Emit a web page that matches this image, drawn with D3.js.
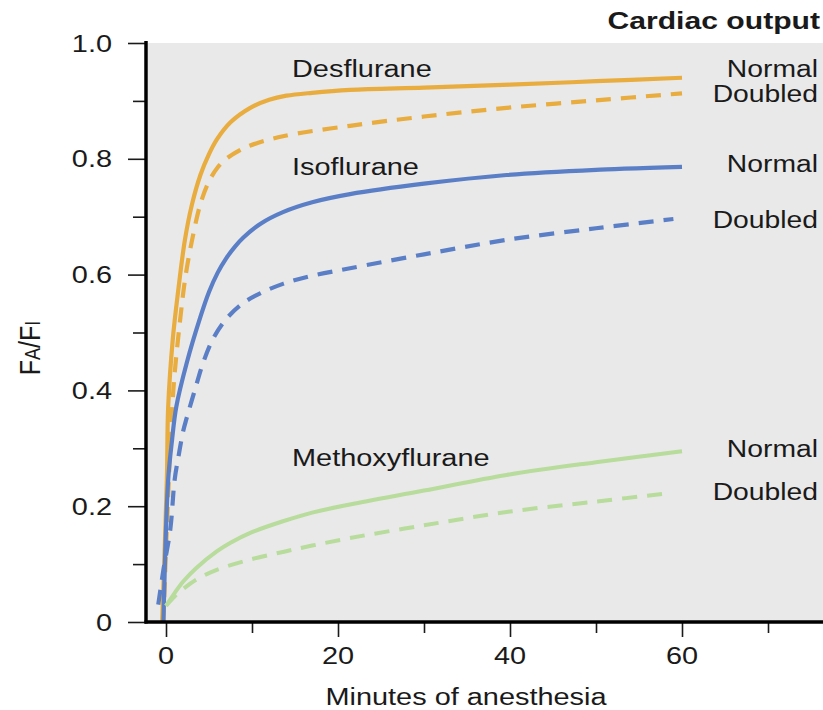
<!DOCTYPE html>
<html>
<head>
<meta charset="utf-8">
<script src="https://cdn.jsdelivr.net/npm/d3@7"></script>
<style>
    body { margin: 0; background: #fff; }
    svg { display: block; }
    text { font-family: "Liberation Sans", Arial, Helvetica, sans-serif; fill: #1a1a1a; }
</style>
</head>
<body>
<div id="chart"></div>
<script>
// [minutes, FA/FI]
const desNormal = [[-0.45, 0], [0.1, 0.245], [0.25, 0.37], [0.8, 0.49], [1.4, 0.57], [2.2, 0.66], [3, 0.72], [4, 0.772], [5, 0.808], [5.9, 0.833], [7.5, 0.863], [9.8, 0.888], [12, 0.902], [14, 0.909], [17, 0.914], [21.4, 0.919], [30, 0.923], [40, 0.928], [50, 0.934], [60, 0.94]];
const desDoubled = [[-0.3, 0], [0.2, 0.2], [0.85, 0.4], [1.6, 0.516], [2.3, 0.6], [3.2, 0.672], [4, 0.722], [4.9, 0.758], [6, 0.785], [7.1, 0.801], [8.5, 0.814], [9.8, 0.823], [13.6, 0.839], [21.4, 0.857], [30, 0.873], [39.6, 0.888], [50, 0.901], [60, 0.913]];
const isoNormal = [[-0.3, 0], [0.25, 0.245], [0.7, 0.314], [1.2, 0.372], [2.4, 0.447], [4, 0.527], [5, 0.57], [6, 0.603], [7, 0.628], [8, 0.648], [9, 0.664], [11, 0.688], [13.6, 0.708], [17, 0.725], [21.4, 0.739], [30, 0.757], [39.6, 0.772], [50, 0.781], [60, 0.786]];
const isoDoubled = [[-0.9, 0.03], [-0.3, 0.09], [0.5, 0.16], [1, 0.245], [1.5, 0.29], [2, 0.33], [2.4, 0.352], [3.4, 0.403], [4.3, 0.447], [5.5, 0.49], [7.1, 0.525], [9, 0.551], [11, 0.568], [13.6, 0.584], [17, 0.598], [21.4, 0.611], [30, 0.635], [39.6, 0.66], [50, 0.68], [59, 0.696]];
const methNormal = [[0, 0.028], [1, 0.05], [2, 0.07], [3.5, 0.093], [5.9, 0.122], [7.5, 0.137], [9.8, 0.154], [13.6, 0.174], [17, 0.189], [21.4, 0.203], [30, 0.227], [39.6, 0.254], [50, 0.276], [60, 0.295]];
const methDoubled = [[0, 0.028], [1, 0.044], [2, 0.057], [3.5, 0.073], [5.9, 0.09], [9.8, 0.108], [13.6, 0.121], [17, 0.132], [21.4, 0.145], [30, 0.167], [39.6, 0.19], [50, 0.208], [58.8, 0.223]];

const drugNames = ['Desflurane', 'Isoflurane', 'Methoxyflurane'];
const drugColors = ['#e8ad3e', '#5b7fc6', '#b7dc9b'];
const outputLabels = ['Normal', 'Doubled'];
const yMajorTicks = [0, 0.2, 0.4, 0.6, 0.8, 1.0];
const yMinorTicks = [0.1, 0.3, 0.5, 0.7, 0.9];
const xMajorTicks = [0, 20, 40, 60];
const xMinorTicks = [10, 30, 50, 70];

const width = 823;
const height = 710;
const sx = 1.23; // the reference type is stretched sideways

const svg = d3.select('#chart').append('svg')
    .attr('width', width)
    .attr('height', height);

const x = d3.scaleLinear().domain([0, 60]).range([166, 682]);
const y = d3.scaleLinear().domain([0, 1]).range([622, 43]);

function label(parent, px, py, str, anchor, size, weight) {
    return parent.append('text')
        .attr('transform', `translate(${px},${py}) scale(${sx},1)`)
        .attr('text-anchor', anchor)
        .style('font-size', size + 'px')
        .style('font-weight', weight || 'normal')
        .text(str);
}

// plot background
svg.append('rect')
    .attr('x', 148).attr('y', 43)
    .attr('width', width - 148).attr('height', 622 - 43)
    .attr('fill', '#e9e9e9');

// curves
const line = d3.line()
    .x(d => x(d[0]))
    .y(d => y(d[1]))
    .curve(d3.curveCatmullRom.alpha(0.5));

const series = [
    { data: desNormal, color: drugColors[0], dashed: false, w: 4.2 },
    { data: desDoubled, color: drugColors[0], dashed: true, w: 4.2 },
    { data: isoDoubled, color: drugColors[1], dashed: true, w: 4.2 },
    { data: isoNormal, color: drugColors[1], dashed: false, w: 4.2 },
    { data: methNormal, color: drugColors[2], dashed: false, w: 4 },
    { data: methDoubled, color: drugColors[2], dashed: true, w: 4 }
];

svg.append('g').selectAll('path')
    .data(series)
    .enter().append('path')
    .attr('d', d => line(d.data))
    .attr('fill', 'none')
    .attr('stroke', d => d.color)
    .attr('stroke-width', d => d.w)
    .attr('stroke-dasharray', d => d.dashed ? '15,10' : null);

// axes: ticks from d3, labels drawn separately
const yAxisMajor = d3.axisLeft(y).tickValues(yMajorTicks).tickSize(18).tickSizeOuter(0).tickFormat('');
const yAxisMinor = d3.axisLeft(y).tickValues(yMinorTicks).tickSize(13).tickSizeOuter(0).tickFormat('');
const xAxisMajor = d3.axisBottom(x).tickValues(xMajorTicks).tickSize(15).tickSizeOuter(0).tickFormat('');
const xAxisMinor = d3.axisBottom(x).tickValues(xMinorTicks).tickSize(11).tickSizeOuter(0).tickFormat('');

[yAxisMajor, yAxisMinor].forEach(ax => {
    svg.append('g').attr('transform', 'translate(146,0)').call(ax)
        .call(g => g.select('.domain').remove())
        .selectAll('line').attr('stroke', '#1a1a1a').attr('stroke-width', 1.6);
});
[xAxisMajor, xAxisMinor].forEach(ax => {
    svg.append('g').attr('transform', 'translate(0,622)').call(ax)
        .call(g => g.select('.domain').remove())
        .selectAll('line').attr('stroke', '#1a1a1a').attr('stroke-width', 1.6);
});

// thick axis lines
svg.append('line')
    .attr('x1', 146).attr('x2', 146).attr('y1', 41).attr('y2', 623.5)
    .attr('stroke', '#000').attr('stroke-width', 3.5);
svg.append('line')
    .attr('x1', 144.5).attr('x2', width).attr('y1', 622).attr('y2', 622)
    .attr('stroke', '#000').attr('stroke-width', 3.5);

// tick labels
yMajorTicks.forEach(v => {
    label(svg, 112, y(v) + 8.5, v === 0 ? '0' : d3.format('.1f')(v), 'end', 23.5);
});
xMajorTicks.forEach(v => {
    label(svg, x(v), 664, String(v), 'middle', 23.5);
});

// axis titles
label(svg, 466, 705, 'Minutes of anesthesia', 'middle', 23.5);

const yTitle = svg.append('text')
    .attr('transform', 'translate(40,348) rotate(-90) scale(1,1.2)')
    .attr('text-anchor', 'middle')
    .style('font-size', '25px');
yTitle.append('tspan').text('F');
yTitle.append('tspan').style('font-size', '18px').text('A');
yTitle.append('tspan').text('/F');
yTitle.append('tspan').style('font-size', '18px').text('I');

// drug names
const drugLabelY = [77, 175, 466];
drugNames.forEach((name, i) => label(svg, 292, drugLabelY[i], name, 'start', 23.5));

// cardiac output labels
label(svg, 820, 29, 'Cardiac output', 'end', 24.5, 'bold');
const rightLabelY = [[77, 102], [172, 228], [457, 500]];
rightLabelY.forEach(pair => {
    pair.forEach((py, j) => label(svg, 818, py, outputLabels[j], 'end', 23));
});
</script>
</body>
</html>
